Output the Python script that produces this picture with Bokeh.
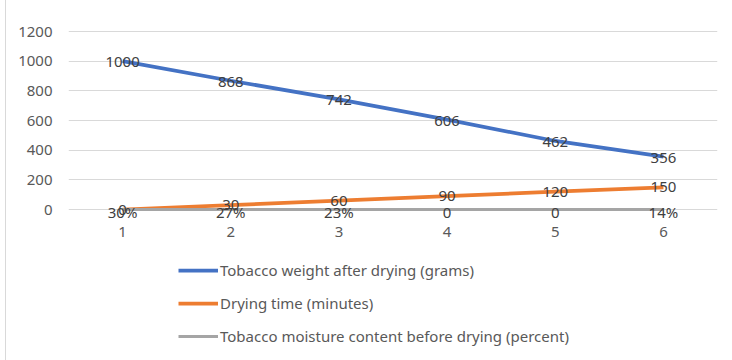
from bokeh.plotting import figure
from bokeh.models import Range1d, FactorRange, FixedTicker, Legend, LegendItem, ColumnDataSource
from bokeh.core.properties import value
from bokeh.embed import file_html
from bokeh.resources import INLINE

# Drying trial data
trials = ["1", "2", "3", "4", "5", "6"]
weight_after = [1000, 868, 742, 606, 462, 356]
drying_time = [0, 30, 60, 90, 120, 150]
moisture_before = [0.30, 0.27, 0.23, 0, 0, 0.14]
y_ticks = [0, 200, 400, 600, 800, 1000, 1200]

series_names = [
    "Tobacco weight after drying (grams)",
    "Drying time (minutes)",
    "Tobacco moisture content before drying (percent)",
]
colors = ["#4472C4", "#ED7D31", "#A5A5A5"]

FONT = "Noto Sans"
TEXT = "#595959"
FS = "15px"


def pct(v):
    return "0" if v == 0 else f"{round(v * 100)}%"


# The frame runs to the bottom of the canvas so the legend below the
# category axis stays inside it; the category axis sits at y = 0.
p = figure(
    width=726, height=360,
    x_range=FactorRange(*trials),
    y_range=Range1d(-1018.0, 1274.2),
    output_backend="svg", toolbar_location=None,
    min_border_left=62, min_border_right=15,
    min_border_top=20, min_border_bottom=0,
)
p.margin = (0, 0, 0, 5)
p.styles = {"border-left": "1px solid #D9D9D9"}
p.outline_line_color = None
p.background_fill_color = "white"
p.border_fill_color = "white"

# grid
p.xgrid.grid_line_color = None
p.ygrid.grid_line_color = "#D9D9D9"
p.ygrid.grid_line_width = 1

# axes
p.yaxis.ticker = FixedTicker(ticks=y_ticks)
p.xaxis.fixed_location = 0
for ax in (p.xaxis, p.yaxis):
    ax.axis_line_color = None
    ax.major_tick_line_color = None
    ax.minor_tick_line_color = None
    ax.major_tick_out = 0
    ax.major_tick_in = 0
    ax.major_label_text_font = FONT
    ax.major_label_text_font_size = FS
    ax.major_label_text_color = TEXT
p.yaxis.major_label_standoff = 16
p.xaxis.major_label_standoff = 17

# series lines
r_weight = p.line(trials, weight_after, line_color=colors[0], line_width=3.75)
r_time = p.line(trials, drying_time, line_color=colors[1], line_width=3.75)
r_moist = p.line(trials, moisture_before, line_color=colors[2], line_width=3)

# data labels, centred on each point
label_sets = [
    (weight_after, [str(v) for v in weight_after], 1),
    (drying_time, [str(v) for v in drying_time], 0),
    (moisture_before, [pct(v) for v in moisture_before], 3),
]
for ys, texts, dy in label_sets:
    src = ColumnDataSource(dict(x=trials, y=ys, t=texts))
    p.text(x="x", y="y", text="t", source=src, y_offset=dy,
           text_align="center", text_baseline="middle",
           text_font=value(FONT), text_font_size=FS, text_color="#404040")

legend = Legend(
    items=[LegendItem(label=n, renderers=[r]) for n, r in zip(series_names, [r_weight, r_time, r_moist])],
    location=(110, 14),
    orientation="vertical",
    glyph_width=40, glyph_height=20, label_height=20,
    label_standoff=2, spacing=13, padding=0, margin=0,
    label_text_font=FONT, label_text_font_size=FS, label_text_color=TEXT,
    border_line_color=None, background_fill_alpha=0,
)
p.add_layout(legend, "center")

open("out.html", "w").write(file_html(p, INLINE))
